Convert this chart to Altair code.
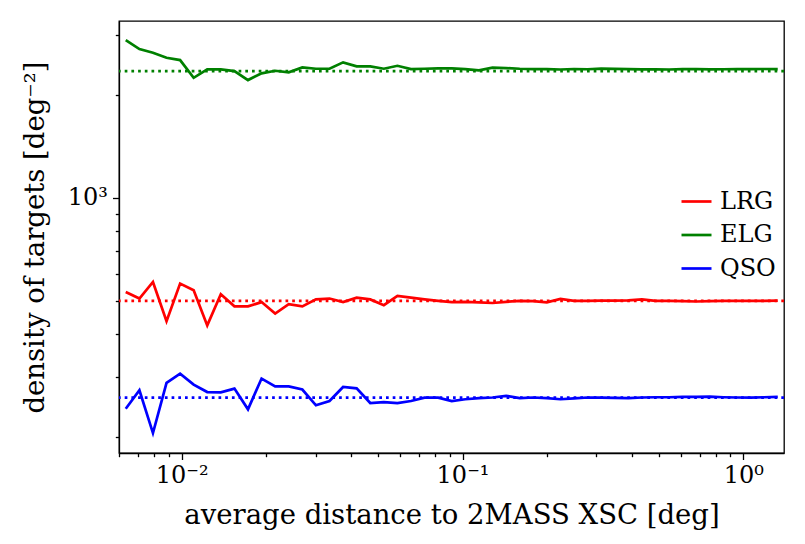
import altair as alt
import pandas as pd

# bin centres of the average distance to 2MASS XSC [deg]
x_deg = [0.00632, 0.00707, 0.00790, 0.00883, 0.00987, 0.01103, 0.01233, 0.01378,
         0.01541, 0.01722, 0.01925, 0.02152, 0.02405, 0.02689, 0.03006, 0.03360,
         0.03756, 0.04198, 0.04693, 0.05246, 0.05864, 0.06555, 0.07327, 0.08190,
         0.09155, 0.1023, 0.1144, 0.1279, 0.1430, 0.1598, 0.1786, 0.1997,
         0.2232, 0.2495, 0.2789, 0.3117, 0.3485, 0.3895, 0.4354, 0.4867,
         0.5441, 0.6082, 0.6798, 0.7599, 0.8494, 0.9495, 1.0613, 1.1863, 1.3261]

lrg = [531, 508, 568, 436, 562, 537, 424, 523, 482, 482, 496, 459, 489, 482, 505, 508,
       496, 511, 505, 486, 517, 511, 505, 500, 496,
       497, 495, 493, 497, 500, 499, 495, 507, 500, 500, 501, 501, 502, 505, 500,
       500, 499, 498, 499, 500, 500, 500, 500, 501]

elg = [2891, 2721, 2655, 2567, 2527, 2243, 2374, 2374, 2347, 2209, 2311, 2352, 2327,
       2406, 2384, 2384, 2488, 2422, 2422, 2384, 2432, 2379, 2384, 2390, 2390,
       2379, 2358, 2401, 2395, 2384, 2379, 2378, 2372, 2380, 2376, 2385, 2382, 2378,
       2374, 2376, 2372, 2378, 2380, 2374, 2376, 2379, 2377, 2380, 2378]

qso = [242, 274, 205.5, 288, 306.6, 284.7, 270.8, 270.3, 277.1, 241.1, 296.5, 281.4,
       281.4, 275.4, 247.7, 254.9, 280.1, 277.7, 251.5, 253.2, 251.5, 254.9, 260.9,
       260.9, 254.9,
       258, 260, 261, 264, 260, 261, 260, 258, 259.5, 261, 261, 260.5, 260, 261,
       261.5, 261.5, 262, 262, 262.5, 261.5, 261, 261, 261.5, 262]

series_names = ["LRG", "ELG", "QSO"]
series_colors = ["#ff0000", "#008000", "#0000ff"]
mean_density = [500, 2347, 260.9]

x_major = [0.01, 0.1, 1.0]
x_minor = [0.006, 0.007, 0.008, 0.009, 0.02, 0.03, 0.04, 0.05, 0.06, 0.07, 0.08,
           0.09, 0.2, 0.3, 0.4, 0.5, 0.6, 0.7, 0.8, 0.9]
y_major = [1000]
y_minor = [200, 300, 400, 500, 600, 700, 800, 900, 2000, 3000]

rows = []
for name, vals in zip(series_names, [lrg, elg, qso]):
    for xv, yv in zip(x_deg, vals):
        rows.append({"x": xv, "y": yv, "series": name})
df = pd.DataFrame(rows)
df_mean = pd.DataFrame({"series": series_names, "mean": mean_density,
                        "color": series_colors})

FONT = "DejaVu Serif"
FS = 24
TFS = 27.5
LW = 2.7

xscale = alt.Scale(type="log", domain=[0.00598, 1.396], nice=False)
yscale = alt.Scale(type="log", domain=[179.7, 3287], nice=False, zero=False)
cscale = alt.Scale(domain=series_names, range=series_colors)

x_axis = alt.Axis(
    values=x_major, orient="bottom",
    title="average distance to 2MASS XSC [deg]",
    labelExpr="abs(datum.value-0.01)<1e-9 ? '10⁻²' : abs(datum.value-0.1)<1e-9 ? '10⁻¹' : '10⁰'",
    tickSize=6.5, labelOverlap=False, labelFlush=False, grid=False,
    labelPadding=4, titlePadding=14,
)
y_axis = alt.Axis(
    values=y_major, orient="left",
    title="density of targets [deg⁻²]",
    labelExpr="'10³'",
    tickSize=6.5, labelOverlap=False, labelFlush=False, grid=False,
    labelPadding=5, titlePadding=18,
)
x_axis_minor = alt.Axis(values=x_minor, orient="bottom", title=None, labels=False,
                        tickSize=3.7, grid=False, domain=False)
y_axis_minor = alt.Axis(values=y_minor, orient="left", title=None, labels=False,
                        tickSize=3.7, grid=False, domain=False)

minor = alt.Chart(df).mark_point(opacity=0).encode(
    x=alt.X("x:Q", scale=xscale, axis=x_axis_minor),
    y=alt.Y("y:Q", scale=yscale, axis=y_axis_minor),
)

lines = alt.Chart(df).mark_line(strokeWidth=LW).encode(
    x=alt.X("x:Q", scale=xscale, axis=x_axis),
    y=alt.Y("y:Q", scale=yscale, axis=y_axis),
    color=alt.Color(
        "series:N",
        scale=cscale,
        sort=series_names,
        legend=alt.Legend(
            title=None,
            orient="none",
            legendX=561,
            legendY=164,
            padding=0,
            symbolType="stroke",
            symbolSize=900,
            symbolStrokeWidth=LW,
            labelFont=FONT,
            labelFontSize=FS,
            labelOffset=7,
            rowPadding=4.5,
        ),
    ),
)

rules = alt.Chart(df_mean).mark_rule(strokeWidth=LW, strokeDash=[2.7, 4]).encode(
    y=alt.Y("mean:Q", scale=yscale, axis=None),
    stroke=alt.Stroke("color:N", scale=None),
)

chart = alt.layer(minor, rules, lines).resolve_axis(
    x="independent", y="independent"
).properties(
    width=665,
    height=432,
    padding={"left": 111, "top": 13, "right": 13, "bottom": 83},
    autosize=alt.AutoSizeParams(type="none"),
    background="white",
).configure_view(
    stroke="black", strokeWidth=1.3
).configure_axis(
    labelFont=FONT, labelFontSize=FS, labelColor="black",
    titleFont=FONT, titleFontSize=TFS, titleFontWeight="normal", titleColor="black",
    domainColor="black", domainWidth=1.3, tickColor="black", tickWidth=1.3,
)

chart.save("out.html", embed_options={"renderer": "svg", "actions": False})
